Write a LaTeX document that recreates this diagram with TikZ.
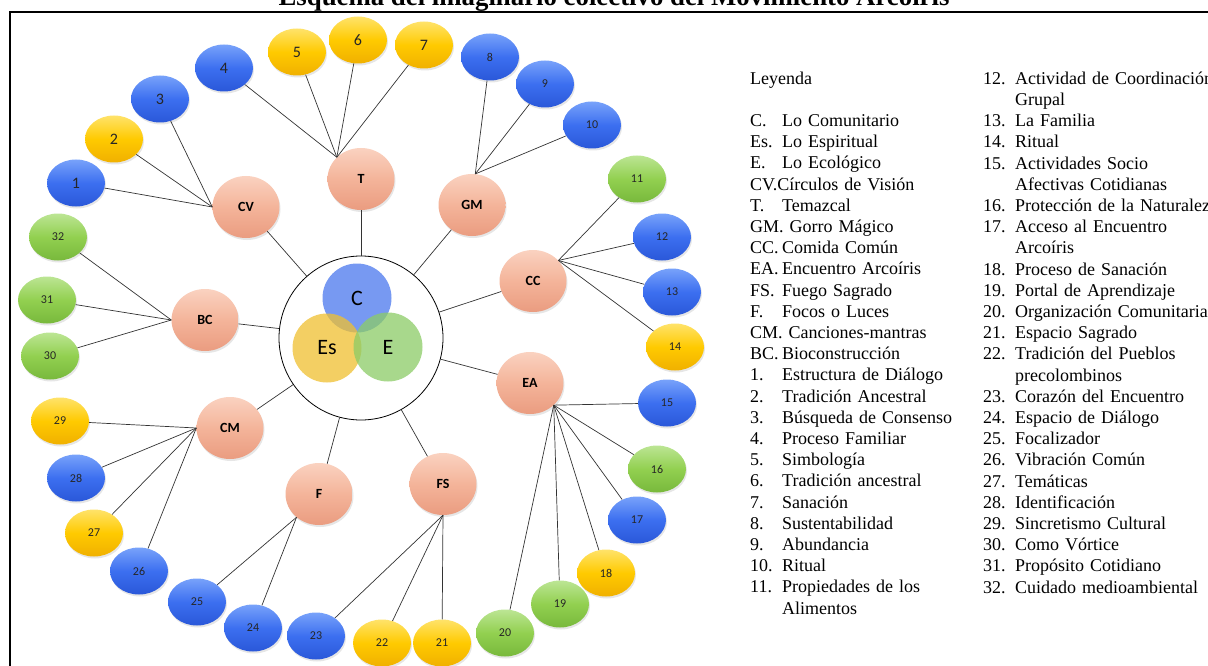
\documentclass[tikz,border=0pt]{standalone}
\usepackage{fontspec}
\setmainfont{Liberation Serif}
\setsansfont{Carlito}
\usetikzlibrary{shapes.geometric, shadows}

\definecolor{blueTop}{HTML}{78A2FA}
\definecolor{blueMid}{HTML}{3C6FF0}
\definecolor{blueBot}{HTML}{2A58D8}
\definecolor{yelTop}{HTML}{FFE36A}
\definecolor{yelMid}{HTML}{FFCA00}
\definecolor{yelBot}{HTML}{F0B000}
\definecolor{grnTop}{HTML}{BCE594}
\definecolor{grnMid}{HTML}{92D050}
\definecolor{grnBot}{HTML}{78B83C}
\definecolor{salTop}{HTML}{FAD2C0}
\definecolor{salMid}{HTML}{F4B49A}
\definecolor{salBot}{HTML}{EA9C80}
\definecolor{coreBlue}{HTML}{4A78EE}
\definecolor{coreYel}{HTML}{F0C030}
\definecolor{coreGrn}{HTML}{8CCC66}

\newlength{\legindent}
\setlength{\legindent}{32pt}
\newcommand{\legitem}[2]{\makebox[\legindent][l]{#1}#2}

\begin{document}
\begin{tikzpicture}[
    x=1pt, y=-1pt,
    link/.style={draw=black!80, line width=0.7pt},
    leaf/.style={ellipse, minimum width=58pt, minimum height=47pt, inner sep=0pt,
        font=\sffamily\fontsize{12}{14}\selectfont, text=black!85,
        drop shadow={opacity=0.2, shadow xshift=1pt, shadow yshift=-2pt}},
    big num/.style={font=\sffamily\fontsize{16}{18}\selectfont},
    blue leaf/.style={leaf, top color=blueTop, bottom color=blueBot, middle color=blueMid},
    yellow leaf/.style={leaf, top color=yelTop, bottom color=yelBot, middle color=yelMid},
    green leaf/.style={leaf, top color=grnTop, bottom color=grnBot, middle color=grnMid},
    hub/.style={ellipse, minimum width=67pt, minimum height=62pt, inner sep=0pt,
        top color=salTop, bottom color=salBot, middle color=salMid,
        font=\sffamily\bfseries\fontsize{14}{16}\selectfont,
        drop shadow={opacity=0.2, shadow xshift=1pt, shadow yshift=-2pt}},
    core part/.style={circle, minimum size=69pt, inner sep=0pt, fill opacity=0.75, text opacity=1,
        font=\sffamily\fontsize{22}{24}\selectfont},
    legend/.style={anchor=north west, inner sep=0pt, text width=320pt, align=left,
        font=\fontsize{18}{21.2}\selectfont}
]
\useasboundingbox (0,0) rectangle (1208,666);
\clip (0,0) rectangle (1208,666);

% Title and frame
\node[anchor=base, font=\bfseries\fontsize{26.8}{30}\selectfont] (title) at (614,6)
    {Esquema del imaginario colectivo del Movimiento Arcoíris};
\draw[line width=2pt] (10,12) rectangle (1240,700);

% Core
\node[circle, draw, line width=0.8pt, fill=white, minimum size=164pt] (core) at (361,338) {};
\node[core part, fill=coreBlue] (C) at (357,298) {C};
\node[core part, fill=coreYel] (Es) at (327,348) {Es};
\node[core part, fill=coreGrn] (E) at (388,347) {E};

% Hubs
\node[hub] (CV) at (246,207) {CV};
\node[hub] (T) at (361,179) {T};
\node[hub] (GM) at (472,205) {GM};
\node[hub] (CC) at (533,281) {CC};
\node[hub] (EA) at (530,383) {EA};
\node[hub] (FS) at (443,484) {FS};
\node[hub] (F) at (319,494) {F};
\node[hub] (CM) at (230,428) {CM};
\node[hub] (BC) at (205,320) {BC};

% Hub to core
\draw[link] (CV) -- (core);
\draw[link] (T) -- (core);
\draw[link] (GM) -- (core);
\draw[link] (CC) -- (core);
\draw[link] (EA) -- (core);
\draw[link] (FS) -- (core);
\draw[link] (F) -- (core);
\draw[link] (CM) -- (core);
\draw[link] (BC) -- (core);

% Leaves
\node[blue leaf, big num] (n1) at (76,183) {1};
\node[yellow leaf, big num] (n2) at (114,139) {2};
\node[blue leaf, big num] (n3) at (160,99) {3};
\node[blue leaf, big num] (n4) at (224,68) {4};
\node[yellow leaf, big num] (n5) at (297,52) {5};
\node[yellow leaf, big num] (n6) at (358,40) {6};
\node[yellow leaf, big num] (n7) at (424,45) {7};
\node[blue leaf] (n8) at (490,57) {8};
\node[blue leaf] (n9) at (545,84) {9};
\node[blue leaf] (n10) at (592,125) {10};
\node[green leaf] (n11) at (637,179) {11};
\node[blue leaf] (n12) at (662,237) {12};
\node[blue leaf] (n13) at (672,292) {13};
\node[yellow leaf] (n14) at (675,347) {14};
\node[blue leaf] (n15) at (667,403) {15};
\node[green leaf] (n16) at (657,469) {16};
\node[blue leaf] (n17) at (637,520) {17};
\node[yellow leaf] (n18) at (606,573) {18};
\node[green leaf] (n19) at (560,604) {19};
\node[green leaf] (n20) at (505,633) {20};
\node[yellow leaf] (n21) at (442,643) {21};
\node[yellow leaf] (n22) at (382,643) {22};
\node[blue leaf] (n23) at (316,636) {23};
\node[blue leaf] (n24) at (253,628) {24};
\node[blue leaf] (n25) at (197,602) {25};
\node[blue leaf] (n26) at (139,571) {26};
\node[yellow leaf] (n27) at (94,533) {27};
\node[blue leaf] (n28) at (76,478) {28};
\node[yellow leaf] (n29) at (60,421) {29};
\node[green leaf] (n30) at (50,356) {30};
\node[green leaf] (n31) at (47,300) {31};
\node[green leaf] (n32) at (58,237) {32};

% Leaves to hubs
\draw[link] (n1) -- (CV.180);
\draw[link] (n2) -- (CV.180);
\draw[link] (n3) -- (CV.180);
\draw[link] (n4) -- (T.138);
\draw[link] (n5) -- (T.138);
\draw[link] (n6) -- (T.138);
\draw[link] (n7) -- (T.138);
\draw[link] (n8) -- (GM.84);
\draw[link] (n9) -- (GM.84);
\draw[link] (n10) -- (GM.84);
\draw[link] (n11) -- (CC.39);
\draw[link] (n12) -- (CC.39);
\draw[link] (n13) -- (CC.39);
\draw[link] (n14) -- (CC.39);
\draw[link] (n15) -- (EA.-43);
\draw[link] (n16) -- (EA.-43);
\draw[link] (n17) -- (EA.-43);
\draw[link] (n18) -- (EA.-43);
\draw[link] (n19) -- (EA.-43);
\draw[link] (n20) -- (EA.-43);
\draw[link] (n21) -- (FS.-90);
\draw[link] (n22) -- (FS.-90);
\draw[link] (n23) -- (FS.-90);
\draw[link] (n24) -- (F.-134);
\draw[link] (n25) -- (F.-134);
\draw[link] (n26) -- (CM.180);
\draw[link] (n27) -- (CM.180);
\draw[link] (n28) -- (CM.180);
\draw[link] (n29) -- (CM.180);
\draw[link] (n30) -- (BC.180);
\draw[link] (n31) -- (BC.180);
\draw[link] (n32) -- (BC.180);

% Legend
\node[legend] (legA) at (750,71.5) {Leyenda\\
\mbox{}\\
\legitem{C.}{Lo Comunitario}\\
\legitem{Es.}{Lo Espiritual}\\
\legitem{E.}{Lo Ecológico}\\
CV.Círculos de Visión\\
\legitem{T.}{Temazcal}\\
GM. Gorro Mágico\\
\legitem{CC.}{Comida Común}\\
\legitem{EA.}{Encuentro Arcoíris}\\
\legitem{FS.}{Fuego Sagrado}\\
\legitem{F.}{Focos o Luces}\\
CM. Canciones-mantras\\
\legitem{BC.}{Bioconstrucción}\\
\legitem{1.}{Estructura de Diálogo}\\
\legitem{2.}{Tradición Ancestral}\\
\legitem{3.}{Búsqueda de Consenso}\\
\legitem{4.}{Proceso Familiar}\\
\legitem{5.}{Simbología}\\
\legitem{6.}{Tradición ancestral}\\
\legitem{7.}{Sanación}\\
\legitem{8.}{Sustentabilidad}\\
\legitem{9.}{Abundancia}\\
\legitem{10.}{Ritual}\\
\legitem{11.}{Propiedades de los}\\
\hspace*{\legindent}Alimentos};

\node[legend] (legB) at (983,71.5) {\legitem{12.}{Actividad de Coordinación}\\
\hspace*{\legindent}Grupal\\
\legitem{13.}{La Familia}\\
\legitem{14.}{Ritual}\\
\legitem{15.}{Actividades Socio}\\
\hspace*{\legindent}Afectivas Cotidianas\\
\legitem{16.}{Protección de la Naturaleza}\\
\legitem{17.}{Acceso al Encuentro}\\
\hspace*{\legindent}Arcoíris\\
\legitem{18.}{Proceso de Sanación}\\
\legitem{19.}{Portal de Aprendizaje}\\
\legitem{20.}{Organización Comunitaria}\\
\legitem{21.}{Espacio Sagrado}\\
\legitem{22.}{Tradición del Pueblos}\\
\hspace*{\legindent}precolombinos\\
\legitem{23.}{Corazón del Encuentro}\\
\legitem{24.}{Espacio de Diálogo}\\
\legitem{25.}{Focalizador}\\
\legitem{26.}{Vibración Común}\\
\legitem{27.}{Temáticas}\\
\legitem{28.}{Identificación}\\
\legitem{29.}{Sincretismo Cultural}\\
\legitem{30.}{Como Vórtice}\\
\legitem{31.}{Propósito Cotidiano}\\
\legitem{32.}{Cuidado medioambiental}};
\end{tikzpicture}
\end{document}
